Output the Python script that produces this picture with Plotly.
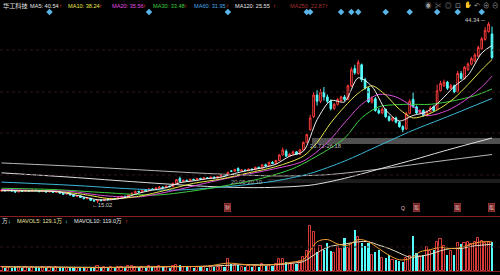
import plotly.graph_objects as go

W, H = 500, 275

# ---------------- data ----------------
opens = [16.95,17.10,17.00,17.15,16.95,16.80,16.95,16.90,17.05,16.95,
         17.10,17.00,16.85,16.95,16.80,16.90,16.75,16.85,16.60,16.45,
         16.55,16.30,16.10,16.20,15.90,15.70,15.80,15.45,15.35,15.50,
         15.40,15.60,15.55,15.75,15.70,15.90,16.10,16.00,16.35,16.60,
         16.90,16.80,17.10,17.00,17.30,17.20,17.45,17.60,17.50,17.75,
         17.65,18.20,19.00,18.50,18.70,18.60,18.85,18.75,19.00,18.90,
         19.10,19.00,19.20,19.05,19.30,19.50,19.50,20.20,20.15,20.60,
         20.20,20.35,20.25,20.50,20.40,20.80,20.60,21.20,21.00,21.60,
         21.40,21.90,22.80,23.40,22.60,22.90,23.30,22.90,23.60,24.80,
         26.90,29.00,32.50,31.50,33.00,32.20,31.50,30.30,31.00,31.60,
         32.20,31.80,34.00,36.80,36.00,37.40,35.00,33.60,31.40,31.90,
         30.00,29.60,30.20,29.00,28.40,28.80,28.10,27.40,27.00,29.50,
         31.80,30.60,29.60,30.00,29.20,29.80,30.60,30.20,33.20,34.00,
         34.60,33.60,34.00,33.00,36.00,35.20,36.60,37.50,38.00,38.80,
         40.00,41.50,42.80,42.40]
closes = [17.10,17.00,17.15,16.95,16.80,16.95,16.90,17.05,16.95,17.10,
          17.00,16.85,16.95,16.80,16.90,16.75,16.85,16.60,16.45,16.55,
          16.30,16.10,16.20,15.90,15.70,15.80,15.45,15.35,15.50,15.40,
          15.60,15.55,15.75,15.70,15.90,16.10,16.00,16.35,16.60,16.90,
          16.80,17.10,17.00,17.30,17.20,17.45,17.60,17.50,17.75,17.65,
          18.20,18.80,18.50,18.70,18.60,18.85,18.75,19.00,18.90,19.10,
          19.00,19.20,19.05,19.30,19.50,19.40,20.00,20.15,20.45,20.20,
          20.35,20.25,20.50,20.40,20.80,20.60,21.20,21.00,21.60,21.40,
          21.90,22.80,23.60,22.60,22.90,23.30,22.90,23.60,24.80,26.10,
          28.80,32.50,31.50,33.00,32.20,31.50,30.30,31.00,31.80,32.20,
          31.80,34.00,36.60,36.10,37.80,35.00,33.60,31.40,31.90,30.00,
          29.60,30.20,29.00,28.40,28.80,28.10,27.40,26.90,29.50,31.50,
          30.60,29.60,30.00,29.20,29.80,30.40,30.00,33.20,34.40,34.60,
          33.60,34.00,33.00,36.00,35.20,37.00,37.50,38.40,39.00,40.20,
          41.60,43.00,44.00,38.60]
highs = [17.20,17.20,17.25,17.20,17.00,17.05,17.05,17.15,17.10,17.20,
         17.15,17.05,17.05,17.00,17.00,16.95,16.95,16.90,16.65,16.65,
         16.60,16.35,16.30,16.25,15.95,15.90,15.85,15.55,15.60,15.60,
         15.70,15.70,15.85,15.85,16.00,16.20,16.20,16.45,16.70,17.00,
         17.00,17.20,17.20,17.40,17.40,17.55,17.70,17.70,17.85,17.85,
         18.30,18.90,19.30,18.80,18.80,18.95,18.95,19.10,19.10,19.20,
         19.20,19.30,19.30,19.40,19.60,19.60,20.05,20.35,20.55,20.80,
         20.45,20.45,20.60,20.60,20.90,20.90,21.30,21.40,21.70,21.80,
         22.00,22.90,24.00,23.70,23.10,23.50,23.40,23.80,25.00,26.18,
         29.30,33.00,33.30,33.50,33.80,32.60,31.80,31.20,32.00,32.40,
         32.50,34.20,37.00,37.40,38.20,37.60,35.30,33.80,32.30,32.20,
         30.40,30.50,30.30,29.20,29.00,29.00,28.30,27.60,29.80,31.80,
         32.90,30.80,30.20,30.20,30.00,30.70,30.80,34.20,34.80,35.00,
         34.80,34.30,34.20,36.40,36.40,37.20,37.80,38.70,39.30,40.50,
         41.90,43.50,44.34,43.60]
lows = [16.85,16.90,16.95,16.90,16.70,16.75,16.85,16.85,16.90,16.90,
        16.95,16.80,16.80,16.75,16.75,16.70,16.70,16.55,16.40,16.40,
        16.25,16.05,16.05,15.85,15.65,15.65,15.40,15.25,15.02,15.30,
        15.35,15.45,15.50,15.60,15.65,15.85,15.95,15.95,16.30,16.55,
        16.70,16.75,16.95,16.95,17.10,17.15,17.40,17.40,17.45,17.55,
        17.60,18.10,18.40,18.40,18.50,18.55,18.65,18.70,18.80,18.85,
        18.90,18.95,19.00,19.00,19.25,19.30,19.45,20.10,20.10,20.15,
        20.15,20.20,20.20,20.30,20.35,20.50,20.55,20.90,20.95,21.30,
        21.35,21.85,22.70,22.50,22.50,22.80,22.80,22.85,23.50,24.70,
        26.72,28.80,30.80,31.20,31.60,31.20,30.00,30.10,30.80,31.40,
        31.50,31.70,33.80,35.80,35.80,34.60,33.40,31.20,31.10,29.80,
        29.40,29.40,28.80,28.20,28.20,27.90,27.20,26.50,26.90,29.40,
        30.40,29.40,29.40,29.00,29.00,29.70,29.80,30.10,33.00,33.80,
        33.30,33.40,32.80,32.90,35.00,35.00,36.40,37.30,37.80,38.60,
        39.80,41.30,42.60,38.30]
volumes = [18,15,20,14,16,19,13,17,15,20,
           16,14,18,15,17,13,16,19,14,15,
           17,15,13,18,16,14,20,17,22,15,
           16,13,18,14,17,19,15,22,24,20,
           16,19,15,21,17,18,22,16,19,15,
           24,28,26,18,16,20,15,18,16,19,
           15,18,16,20,22,17,55,30,25,28,
           20,18,22,18,24,18,30,22,28,22,
           30,53,55,40,32,36,30,45,62,90,
           200,174,85,110,95,125,90,80,107,100,
           147,102,120,182,151,125,110,125,70,85,
           93,58,60,71,49,49,45,40,60,67,
           156,80,67,70,107,90,93,129,142,110,
           71,90,71,125,120,125,128,120,129,147,
           133,125,129,129]

# moving-average lines (index, value)
ma5_x = [0,4,8,12,16,20,24,28,32,36,40,44,48,52,56,60,64,68,72,76,80,84,88,92,96,100,104,108,112,116,120,124,128,132,136,140,143]
ma5_y = [17.0,17.0,16.95,16.95,16.85,16.5,16.0,15.55,15.55,15.9,16.6,17.1,17.5,18.3,18.6,18.95,19.2,19.8,20.3,20.7,21.3,22.6,23.4,28.5,31.6,31.4,35.3,33.9,30.1,28.3,29.2,29.8,31.6,33.9,35.7,39.3,40.54]
ma10_x = [0,8,16,24,32,40,48,56,64,72,80,88,92,96,100,104,108,112,116,120,124,128,132,136,140,143]
ma10_y = [17.05,17.0,16.9,16.4,15.7,16.1,17.1,18.2,18.9,19.9,20.9,22.6,24.8,28.0,30.6,32.8,34.0,32.5,30.2,28.8,29.3,30.4,32.0,34.2,36.6,38.24]
ma20_x = [0,10,20,30,40,50,60,70,80,88,95,100,105,110,115,120,124,130,135,140,143]
ma20_y = [17.2,17.05,16.9,16.2,16.0,17.0,18.3,19.5,20.6,21.8,24.8,28.0,31.0,32.6,32.2,30.6,29.2,30.0,31.6,33.8,35.56]
ma30_x = [0,15,30,45,55,65,75,85,95,100,105,110,118,125,132,138,143]
ma30_y = [17.4,17.2,16.7,16.3,16.9,17.8,18.9,20.6,23.6,25.5,28.8,30.6,31.0,31.0,31.6,32.4,33.48]
ma60_x = [0,20,38,50,60,70,80,90,100,110,120,130,143]
ma60_y = [18.4,17.9,17.3,17.1,17.4,17.9,18.6,19.8,21.8,24.3,26.8,29.0,31.95]
ma120_x = [0,20,40,60,75,90,100,110,120,130,143]
ma120_y = [19.9,19.2,18.4,17.7,17.5,17.9,19.0,20.5,22.0,23.6,25.55]
ma250_x = [0,20,40,60,80,95,110,125,143]
ma250_y = [21.5,21.0,20.4,19.8,19.4,19.6,20.5,21.6,22.87]

mavol5_x = [0,10,20,30,40,50,60,66,70,75,80,85,88,90,92,95,98,101,104,107,110,113,116,119,122,125,128,131,134,137,140,143]
mavol5_y = [18,17,16,15,18,20,22,35,30,25,30,40,50,90,130,140,120,115,140,130,100,70,50,55,85,95,105,100,105,120,130,129.1]
mavol10_x = [0,10,20,30,40,50,60,70,80,85,88,90,93,96,100,104,107,110,113,116,119,122,125,128,131,134,137,140,143]
mavol10_y = [19,18,17,16,17,19,21,28,28,35,42,60,90,110,120,130,130,115,100,80,62,65,75,90,100,100,110,115,119.0]

event_diamonds = [14,43,66,89,90,99,102,104,112,119,127,133,140]
event_boxes = [(66, "财"), (117, "Q"), (121, "股"), (133, "股"), (143, "股")]
legend_items = [("MA5: 40.54", "#e6e6e6"), ("MA10: 38.24", "#e6e64c"),
                ("MA20: 35.56", "#e04ce0"), ("MA30: 33.48", "#3fcf3f"),
                ("MA60: 31.95", "#4aa8e8"), ("MA120: 25.55", "#e6e6e6"),
                ("MA250: 22.87", "#a0302a")]
date_labels = ["2019/01", "2019/03", "2019/05", "2019/07", "2019/09", "2019/11", "2020/01"]
date_idx = [8, 30, 47, 66, 91, 110, 130]

# ---------------- layout helpers ----------------
PX = 3.43
X0 = 1.5
xr = [-X0 / PX, (W - X0) / PX]
P_TOP = 47.9
P_PER_PX = 0.162
price_range = [P_TOP - P_PER_PX * 217, P_TOP]
VOL_PER_PX = 4.45
vol_range = [0, VOL_PER_PX * 51]

def py(y):
    return 1 - y / H

def pxx(x):
    return x / W

N = len(closes)
idx = list(range(N))
RED = "#ff3c3c"
CYAN = "#54fcfc"

fig = go.Figure()
fig.add_trace(go.Candlestick(
    x=idx, open=opens, high=highs, low=lows, close=closes,
    increasing=dict(line=dict(color=RED, width=1), fillcolor="#000000"),
    decreasing=dict(line=dict(color=CYAN, width=1), fillcolor=CYAN),
    whiskerwidth=0, xaxis="x", yaxis="y", showlegend=False, hoverinfo="skip"))

for xs, ys, col, w in [(ma250_x, ma250_y, "#b8b8b8", 1), (ma120_x, ma120_y, "#e0e0e0", 1),
                       (ma60_x, ma60_y, "#3cb8d8", 1), (ma30_x, ma30_y, "#3fcf3f", 1),
                       (ma20_x, ma20_y, "#d84cd8", 1), (ma10_x, ma10_y, "#e6e64c", 1),
                       (ma5_x, ma5_y, "#f0f0f0", 1)]:
    fig.add_trace(go.Scatter(x=xs, y=ys, mode="lines", line=dict(color=col, width=w, shape="spline", smoothing=0.8),
                             xaxis="x", yaxis="y", showlegend=False, hoverinfo="skip"))

fig.add_trace(go.Scatter(x=event_diamonds, y=[P_TOP - P_PER_PX * 12] * len(event_diamonds), mode="markers",
                         marker=dict(symbol="diamond", size=5, color="#5ab4e6"),
                         xaxis="x", yaxis="y", showlegend=False, hoverinfo="skip"))

up = [c >= o for o, c in zip(opens, closes)]
fig.add_trace(go.Bar(x=[i for i in idx if up[i]], y=[volumes[i] for i in idx if up[i]], width=0.62,
                     marker=dict(color="rgba(0,0,0,0)", line=dict(color="#d83a3a", width=1)),
                     xaxis="x2", yaxis="y2", showlegend=False, hoverinfo="skip"))
fig.add_trace(go.Bar(x=[i for i in idx if not up[i]], y=[volumes[i] for i in idx if not up[i]], width=0.62,
                     marker=dict(color=CYAN, line=dict(width=0)),
                     xaxis="x2", yaxis="y2", showlegend=False, hoverinfo="skip"))
fig.add_trace(go.Scatter(x=mavol10_x, y=mavol10_y, mode="lines", line=dict(color="#e8e0c0", width=1, shape="spline"),
                         xaxis="x2", yaxis="y2", showlegend=False, hoverinfo="skip"))
fig.add_trace(go.Scatter(x=mavol5_x, y=mavol5_y, mode="lines", line=dict(color="#f0a030", width=1, shape="spline"),
                         xaxis="x2", yaxis="y2", showlegend=False, hoverinfo="skip"))

FONT = "Liberation Sans, Arial, Noto Sans CJK SC"
ann = []

def txt(x, y, s, color, size=5.6, xanchor="left", **kw):
    ann.append(dict(x=pxx(x), y=py(y), xref="paper", yref="paper", text=s, showarrow=False,
                    xanchor=xanchor, yanchor="middle", font=dict(family=FONT, size=size, color=color), **kw))

# top legend
txt(1, 6, "华工科技", "#e6e6e6", size=6.2)
lx = [28, 66, 110, 151, 192, 233, 288]
ax = [60, 100, 144, 185, 227, 274, 326]
for (s, c), x0, a in zip(legend_items, lx, ax):
    txt(x0, 6, s, c)
    txt(a, 6, "<b>↑</b>", RED, size=6, xanchor="center")

# toolbar icons
for s, x0 in zip(["◉", "✂", "◎", "⊡", "✋", "↶", "⊕", "⊖"], [428, 438, 448, 458, 468, 477, 486, 495]):
    txt(x0, 5, s, "#9a9a9a", size=6.5, xanchor="center")

# volume legend
txt(0, 221, "万", "#e6e6e6")
txt(9, 221, "<b>↓</b>", CYAN, xanchor="center")
txt(15, 221, "MAVOL5: 129.1万", "#e8e0a0")
txt(66, 221, "<b>↓</b>", CYAN, xanchor="center")
txt(72, 221, "MAVOL10: 119.0万", "#e6e6e6")
txt(126, 221, "<b>↑</b>", RED, xanchor="center")

# price labels
txt(90, 205, "←15.02", "#c8c8c8", size=5.8)
txt(463, 20, "44.34 ─", "#c8c8c8", size=5.8)
txt(308, 146, "26.72-26.18", "#c0c0c0", size=5.8)
txt(229, 182, "20.05-20.10", "#a8a8a8", size=5.8)

# event boxes
for i, s in event_boxes:
    ann.append(dict(x=i, y=py(212), xref="x", yref="paper", text=s, showarrow=False,
                    font=dict(family=FONT, size=5, color="#f0c8c8"),
                    bgcolor="#6a1c1c" if s != "Q" else "rgba(0,0,0,0)",
                    bordercolor="#c04848" if s != "Q" else "rgba(0,0,0,0)", borderwidth=0.5, borderpad=0.5))

# date labels (cut by the bottom edge, as in the source screenshot)
for i, s in zip(date_idx, date_labels):
    ann.append(dict(x=i, y=py(272.5), xref="x", yref="paper", text=s, showarrow=False, yanchor="top",
                    font=dict(family=FONT, size=6, color="#8a8a8a")))

shapes = []
for yy in [50, 92, 133, 175]:
    shapes.append(dict(type="line", xref="paper", yref="paper", x0=0, x1=1, y0=py(yy), y1=py(yy),
                       line=dict(color="#301616", width=1, dash="dot")))
shapes.append(dict(type="line", xref="paper", yref="paper", x0=0, x1=1, y0=py(247), y1=py(247),
                   line=dict(color="#301616", width=1, dash="dot")))
shapes.append(dict(type="line", xref="paper", yref="paper", x0=0, x1=1, y0=py(216.5), y1=py(216.5),
                   line=dict(color="#8a1e1e", width=1)))
shapes.append(dict(type="line", xref="paper", yref="paper", x0=0, x1=1, y0=py(271.5), y1=py(271.5),
                   line=dict(color="#8a1e1e", width=1)))
shapes.append(dict(type="rect", xref="paper", yref="paper", x0=pxx(312), x1=1, y0=py(144), y1=py(138),
                   fillcolor="rgba(200,200,200,0.4)", line=dict(width=0), layer="below"))
shapes.append(dict(type="rect", xref="paper", yref="paper", x0=pxx(268), x1=1, y0=py(183), y1=py(179),
                   fillcolor="rgba(160,160,160,0.18)", line=dict(width=0), layer="below"))

axis_common = dict(showgrid=False, zeroline=False, showticklabels=False, ticks="", showline=False, fixedrange=True)
fig.update_layout(
    width=W, height=H, margin=dict(l=0, r=0, t=0, b=0),
    paper_bgcolor="#000000", plot_bgcolor="#000000",
    xaxis=dict(range=xr, domain=[0, 1], anchor="y", rangeslider=dict(visible=False), **axis_common),
    yaxis=dict(range=price_range, domain=[py(217), 1], anchor="x", **axis_common),
    xaxis2=dict(range=xr, domain=[0, 1], anchor="y2", **axis_common),
    yaxis2=dict(range=vol_range, domain=[py(271), py(220)], anchor="x2", **axis_common),
    bargap=0, annotations=ann, shapes=shapes, showlegend=False,
)
fig.write_html("out.html")
